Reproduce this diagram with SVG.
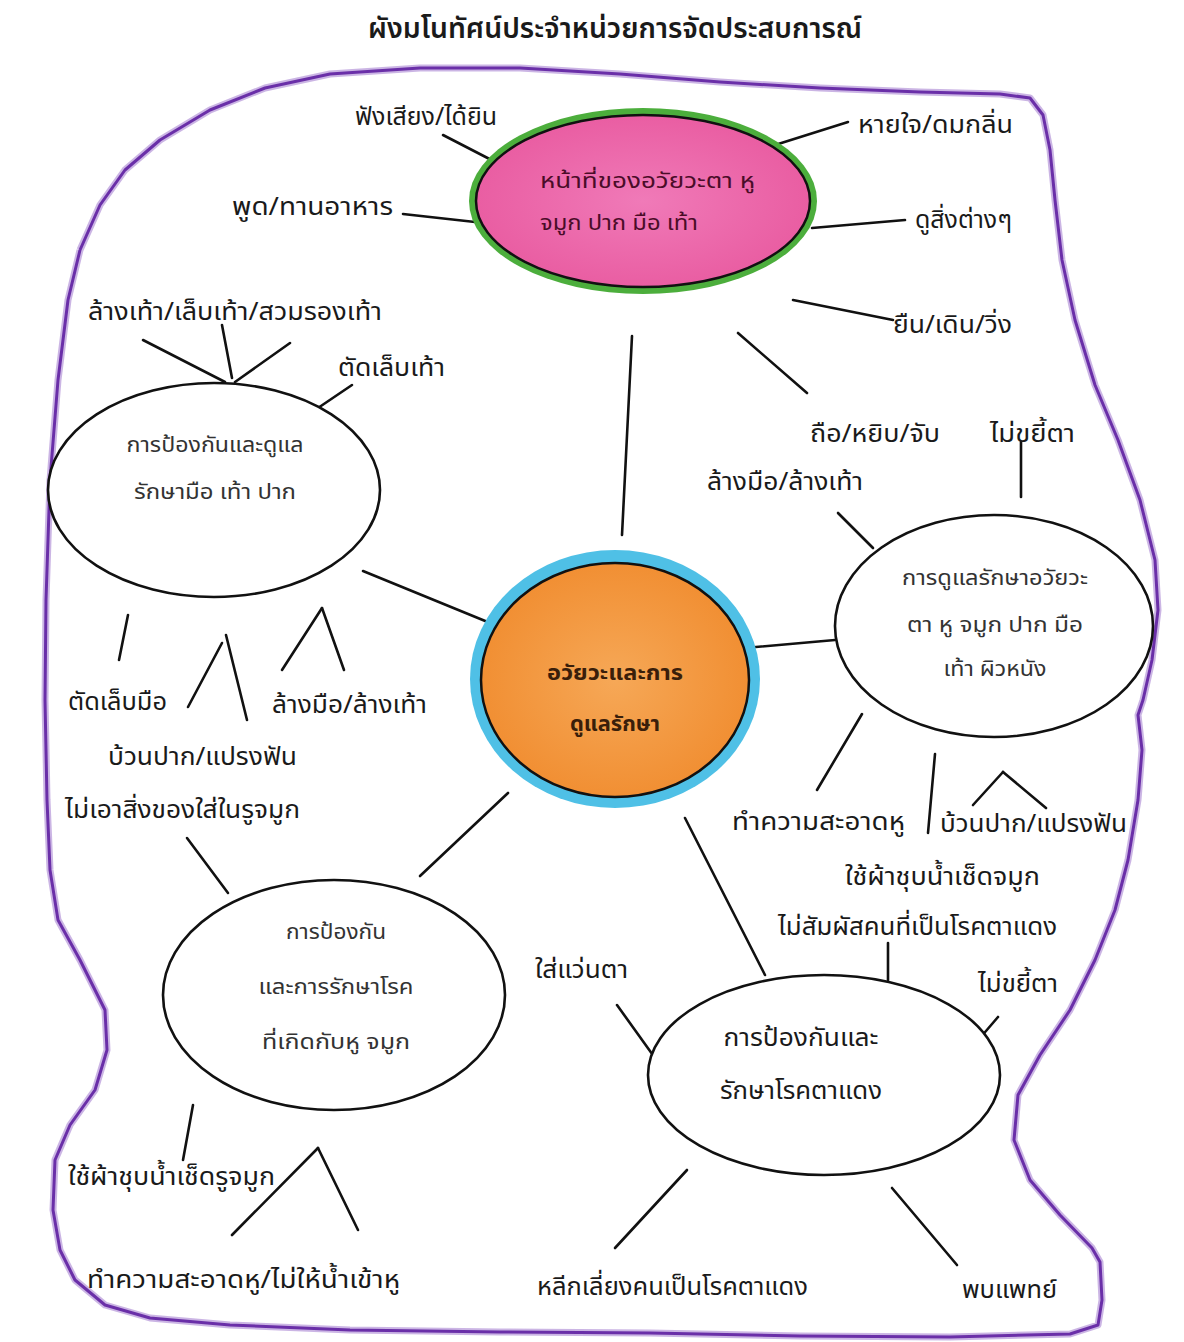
<svg xmlns="http://www.w3.org/2000/svg" width="1184" height="1342" viewBox="0 0 1184 1342">
<defs>
<style>
text{font-family:"Noto Sans Thai","Noto Sans","DejaVu Sans",sans-serif;fill:#1a1a1a}
.lbl{font-size:25px}
.in{font-size:21px;fill:#333;text-anchor:middle}
.conn line{stroke:#111;stroke-width:2.6;stroke-linecap:round}
.oval{fill:#fff;stroke:#111;stroke-width:2.6}
</style>
<radialGradient id="pink" cx="50%" cy="50%" r="60%">
<stop offset="0" stop-color="#f07ab8"/><stop offset="1" stop-color="#e8589e"/>
</radialGradient>
<radialGradient id="orange" cx="50%" cy="50%" r="60%">
<stop offset="0" stop-color="#f6a857"/><stop offset="1" stop-color="#f08a2c"/>
</radialGradient>
</defs>
<rect width="1184" height="1342" fill="#fff"/>
<text x="615" y="38" text-anchor="middle" style="font-size:29px;font-weight:600" textLength="494" lengthAdjust="spacingAndGlyphs">ผังมโนทัศน์ประจำหน่วยการจัดประสบการณ์</text>
<g id="border" fill="none" stroke-linejoin="round">
<polyline stroke="#8b5cc4" stroke-width="7" opacity="0.45" points="80,250 100,205 125,170 160,140 210,110 265,88 330,74 420,68 520,68 620,74 720,82 820,88 920,92 1000,94 1030,98 1043,115 1050,150 1055,200 1062,260 1075,320 1095,385 1118,440 1140,500 1155,560 1158,610 1152,660 1143,700 1138,715 1142,750 1138,800 1128,860 1115,910 1095,960 1070,1010 1040,1055 1018,1095 1014,1140 1030,1180 1060,1215 1092,1248 1100,1262 1102,1300 1098,1325 1070,1334 950,1337 800,1336 650,1333 500,1332 350,1330 230,1325 150,1318 105,1305 75,1280 60,1250 53,1210 55,1160 70,1125 95,1090 107,1050 105,1010 80,960 58,920 50,870 47,800 45,700 46,600 50,480 58,380 68,300 80,250"/>
<polyline stroke="#6a2fa8" stroke-width="3" points="80,250 100,205 125,170 160,140 210,110 265,88 330,74 420,68 520,68 620,74 720,82 820,88 920,92 1000,94 1030,98 1043,115 1050,150 1055,200 1062,260 1075,320 1095,385 1118,440 1140,500 1155,560 1158,610 1152,660 1143,700 1138,715 1142,750 1138,800 1128,860 1115,910 1095,960 1070,1010 1040,1055 1018,1095 1014,1140 1030,1180 1060,1215 1092,1248 1100,1262 1102,1300 1098,1325 1070,1334 950,1337 800,1336 650,1333 500,1332 350,1330 230,1325 150,1318 105,1305 75,1280 60,1250 53,1210 55,1160 70,1125 95,1090 107,1050 105,1010 80,960 58,920 50,870 47,800 45,700 46,600 50,480 58,380 68,300 80,250"/>
</g>
<g class="conn" id="connectors">
<line x1="443" y1="135" x2="505" y2="167"/>
<line x1="775" y1="145" x2="848" y2="122"/>
<line x1="403" y1="214" x2="475" y2="222"/>
<line x1="812" y1="228" x2="905" y2="220"/>
<line x1="793" y1="300" x2="893" y2="320"/>
<line x1="632" y1="336" x2="622" y2="535"/>
<line x1="738" y1="333" x2="807" y2="393"/>
<line x1="1021" y1="442" x2="1021" y2="497"/>
<line x1="838" y1="513" x2="873" y2="548"/>
<line x1="745" y1="648" x2="835" y2="640"/>
<line x1="363" y1="571" x2="495" y2="625"/>
<line x1="143" y1="340" x2="225" y2="382"/>
<line x1="222" y1="325" x2="232" y2="378"/>
<line x1="290" y1="343" x2="235" y2="382"/>
<line x1="352" y1="385" x2="315" y2="410"/>
<line x1="128" y1="615" x2="119" y2="660"/>
<line x1="188" y1="707" x2="222" y2="643"/>
<line x1="226" y1="635" x2="247" y2="720"/>
<line x1="282" y1="670" x2="322" y2="608"/>
<line x1="322" y1="608" x2="344" y2="670"/>
<line x1="187" y1="838" x2="228" y2="893"/>
<line x1="508" y1="793" x2="420" y2="876"/>
<line x1="685" y1="818" x2="765" y2="975"/>
<line x1="862" y1="714" x2="817" y2="790"/>
<line x1="935" y1="754" x2="928" y2="833"/>
<line x1="973" y1="805" x2="1003" y2="772"/>
<line x1="1003" y1="772" x2="1046" y2="808"/>
<line x1="888" y1="943" x2="888" y2="980"/>
<line x1="998" y1="1017" x2="950" y2="1073"/>
<line x1="617" y1="1005" x2="655" y2="1058"/>
<line x1="687" y1="1170" x2="615" y2="1248"/>
<line x1="892" y1="1188" x2="957" y2="1265"/>
<line x1="193" y1="1105" x2="183" y2="1160"/>
<line x1="232" y1="1235" x2="318" y2="1148"/>
<line x1="318" y1="1148" x2="358" y2="1230"/>
</g>
<g id="node-functions">
<ellipse cx="643" cy="201" rx="174" ry="93" fill="#4cae3c"/>
<ellipse cx="643" cy="201" rx="167" ry="86" fill="url(#pink)" stroke="#111" stroke-width="2.5"/>
<text x="540" y="188" style="font-size:21px;fill:#4a0c28" textLength="215" lengthAdjust="spacingAndGlyphs">หน้าที่ของอวัยวะตา  หู</text>
<text x="540" y="230" style="font-size:21px;fill:#4a0c28" textLength="158" lengthAdjust="spacingAndGlyphs">จมูก ปาก มือ เท้า</text>
</g>
<g id="node-center">
<ellipse cx="615" cy="679" rx="145" ry="129" fill="#4fc0e6"/>
<ellipse cx="615" cy="680" rx="134" ry="117" fill="url(#orange)" stroke="#111" stroke-width="2.5"/>
<text x="615" y="680" text-anchor="middle" style="font-size:22px;font-weight:bold;fill:#3a1e0a" textLength="136" lengthAdjust="spacingAndGlyphs">อวัยวะและการ</text>
<text x="615" y="731" text-anchor="middle" style="font-size:22px;font-weight:bold;fill:#3a1e0a" textLength="90" lengthAdjust="spacingAndGlyphs">ดูแลรักษา</text>
</g>
<g id="node-hands">
<ellipse class="oval" cx="214" cy="490" rx="166" ry="107"/>
<text class="in" x="215" y="452" textLength="177" lengthAdjust="spacingAndGlyphs">การป้องกันและดูแล</text>
<text class="in" x="215" y="499" textLength="162" lengthAdjust="spacingAndGlyphs">รักษามือ เท้า ปาก</text>
</g>
<g id="node-organs">
<ellipse class="oval" cx="994" cy="626" rx="159" ry="111"/>
<text class="in" x="995" y="585" textLength="186" lengthAdjust="spacingAndGlyphs">การดูแลรักษาอวัยวะ</text>
<text class="in" x="995" y="632" textLength="176" lengthAdjust="spacingAndGlyphs">ตา หู จมูก ปาก มือ</text>
<text class="in" x="995" y="676" textLength="103" lengthAdjust="spacingAndGlyphs">เท้า ผิวหนัง</text>
</g>
<g id="node-earnose">
<ellipse class="oval" cx="334" cy="995" rx="171" ry="115"/>
<text class="in" x="336" y="939" textLength="100" lengthAdjust="spacingAndGlyphs">การป้องกัน</text>
<text class="in" x="336" y="994" textLength="155" lengthAdjust="spacingAndGlyphs">และการรักษาโรค</text>
<text class="in" x="336" y="1049" textLength="148" lengthAdjust="spacingAndGlyphs">ที่เกิดกับหู จมูก</text>
</g>
<g id="node-pinkeye">
<ellipse class="oval" cx="824" cy="1075" rx="176" ry="100"/>
<text x="801" y="1046" text-anchor="middle" style="font-size:25px" textLength="155" lengthAdjust="spacingAndGlyphs">การป้องกันและ</text>
<text x="801" y="1099" text-anchor="middle" style="font-size:25px" textLength="162" lengthAdjust="spacingAndGlyphs">รักษาโรคตาแดง</text>
</g>
<g id="labels">
<g id="l1"><text class="lbl" x="355" y="125" textLength="142" lengthAdjust="spacingAndGlyphs">ฟังเสียง/ได้ยิน</text></g>
<g id="l2"><text class="lbl" x="858" y="133" textLength="155" lengthAdjust="spacingAndGlyphs">หายใจ/ดมกลิ่น</text></g>
<g id="l3"><text class="lbl" x="232" y="215" textLength="161" lengthAdjust="spacingAndGlyphs">พูด/ทานอาหาร</text></g>
<g id="l4"><text class="lbl" x="915" y="228" textLength="97" lengthAdjust="spacingAndGlyphs">ดูสิ่งต่างๆ</text></g>
<g id="l5"><text class="lbl" x="893" y="333" textLength="119" lengthAdjust="spacingAndGlyphs">ยืน/เดิน/วิ่ง</text></g>
<g id="l6"><text class="lbl" x="810" y="442" textLength="130" lengthAdjust="spacingAndGlyphs">ถือ/หยิบ/จับ</text></g>
<g id="l7"><text class="lbl" x="990" y="442" textLength="85" lengthAdjust="spacingAndGlyphs">ไม่ขยี้ตา</text></g>
<g id="l8"><text class="lbl" x="707" y="490" textLength="156" lengthAdjust="spacingAndGlyphs">ล้างมือ/ล้างเท้า</text></g>
<g id="l9"><text class="lbl" x="88" y="320" textLength="294" lengthAdjust="spacingAndGlyphs">ล้างเท้า/เล็บเท้า/สวมรองเท้า</text></g>
<g id="l10"><text class="lbl" x="338" y="376" textLength="107" lengthAdjust="spacingAndGlyphs">ตัดเล็บเท้า</text></g>
<g id="l11"><text class="lbl" x="68" y="710" textLength="99" lengthAdjust="spacingAndGlyphs">ตัดเล็บมือ</text></g>
<g id="l12"><text class="lbl" x="272" y="713" textLength="155" lengthAdjust="spacingAndGlyphs">ล้างมือ/ล้างเท้า</text></g>
<g id="l13"><text class="lbl" x="108" y="765" textLength="189" lengthAdjust="spacingAndGlyphs">บ้วนปาก/แปรงฟัน</text></g>
<g id="l14"><text class="lbl" x="65" y="818" textLength="235" lengthAdjust="spacingAndGlyphs">ไม่เอาสิ่งของใส่ในรูจมูก</text></g>
<g id="l15"><text class="lbl" x="732" y="830" textLength="173" lengthAdjust="spacingAndGlyphs">ทำความสะอาดหู</text></g>
<g id="l16"><text class="lbl" x="940" y="832" textLength="187" lengthAdjust="spacingAndGlyphs">บ้วนปาก/แปรงฟัน</text></g>
<g id="l17"><text class="lbl" x="845" y="885" textLength="195" lengthAdjust="spacingAndGlyphs">ใช้ผ้าชุบน้ำเช็ดจมูก</text></g>
<g id="l18"><text class="lbl" x="778" y="935" textLength="279" lengthAdjust="spacingAndGlyphs">ไม่สัมผัสคนที่เป็นโรคตาแดง</text></g>
<g id="l19"><text class="lbl" x="978" y="992" textLength="80" lengthAdjust="spacingAndGlyphs">ไม่ขยี้ตา</text></g>
<g id="l20"><text class="lbl" x="535" y="978" textLength="93" lengthAdjust="spacingAndGlyphs">ใส่แว่นตา</text></g>
<g id="l21"><text class="lbl" x="537" y="1295" textLength="271" lengthAdjust="spacingAndGlyphs">หลีกเลี่ยงคนเป็นโรคตาแดง</text></g>
<g id="l22"><text class="lbl" x="962" y="1298" textLength="95" lengthAdjust="spacingAndGlyphs">พบแพทย์</text></g>
<g id="l23"><text class="lbl" x="68" y="1185" textLength="207" lengthAdjust="spacingAndGlyphs">ใช้ผ้าชุบน้ำเช็ดรูจมูก</text></g>
<g id="l24"><text class="lbl" x="87" y="1288" textLength="313" lengthAdjust="spacingAndGlyphs">ทำความสะอาดหู/ไม่ให้น้ำเข้าหู</text></g>
</g>
</svg>
